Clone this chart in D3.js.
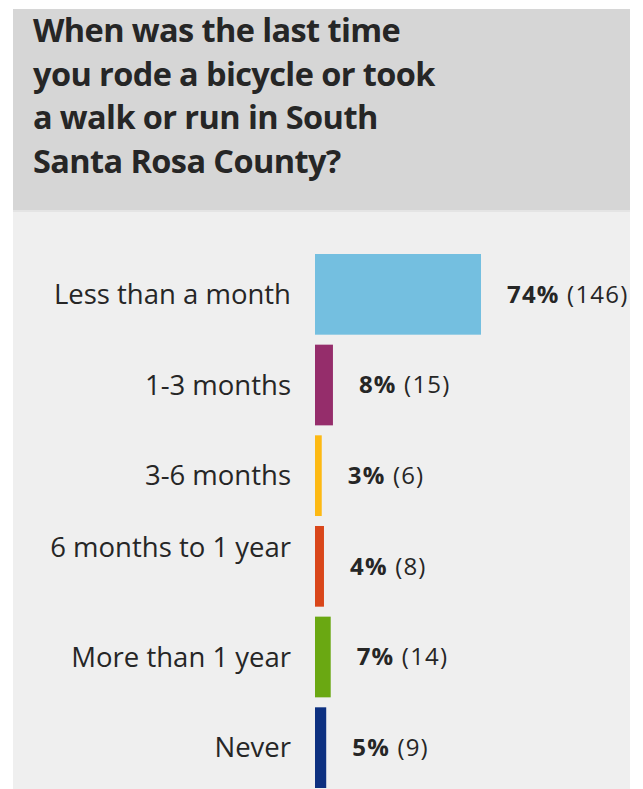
<!DOCTYPE html>
<html>
<head>
<meta charset="utf-8">
<script src="https://cdn.jsdelivr.net/npm/d3@7"></script>
<style>
  html, body { margin: 0; padding: 0; background: #ffffff; }
  svg { display: block; }
  text { font-family: "Open Sans", "Noto Sans", sans-serif; }
</style>
</head>
<body>
<svg id="chart" width="643" height="789"></svg>
<script>
const titleLines = [
  "When was the last time",
  "you rode a bicycle or took",
  "a walk or run in South",
  "Santa Rosa County?"
];
const categories = ["Less than a month", "1-3 months", "3-6 months", "6 months to 1 year", "More than 1 year", "Never"];
const percents = [74, 8, 3, 4, 7, 5];
const counts = [146, 15, 6, 8, 14, 9];
const colors = ["#74bfe0", "#952d6b", "#fdb913", "#d9461a", "#6aa812", "#0d3080"];

const data = categories.map((c, i) => ({ cat: c, pct: percents[i], n: counts[i], color: colors[i] }));

const W = 643, H = 789;
const svg = d3.select("#chart");

// panels
svg.append("rect").attr("x", 13).attr("y", 210).attr("width", 617).attr("height", H - 210).attr("fill", "#efefef");
svg.append("rect").attr("x", 13).attr("y", 9).attr("width", 617).attr("height", 201).attr("fill", "#d6d6d6");
svg.append("rect").attr("x", 13).attr("y", 210).attr("width", 617).attr("height", 2).attr("fill", "#e4e4e4");

// title
const title = svg.append("text")
  .attr("x", 33).attr("y", 42)
  .attr("font-size", 32.5).attr("font-weight", 700).attr("fill", "#262626")
  .attr("letter-spacing", -0.6);
title.selectAll("tspan").data(titleLines).join("tspan")
  .attr("x", 33).attr("dy", (d, i) => i === 0 ? 0 : 43.5)
  .text(d => d);

// scales
const x = d3.scaleLinear().domain([0, 74]).range([315, 481]);
const y = d3.scaleBand().domain(categories).range([254, 788]).paddingInner(0.11).paddingOuter(0);

const g = svg.append("g");
g.selectAll("rect.bar").data(data).join("rect")
  .attr("class", "bar")
  .attr("x", x(0))
  .attr("y", d => y(d.cat))
  .attr("width", d => x(d.pct) - x(0))
  .attr("height", y.bandwidth())
  .attr("fill", d => d.color);

// category labels
g.selectAll("text.cat").data(data).join("text")
  .attr("class", "cat")
  .attr("x", 291)
  .attr("y", d => y(d.cat) + y.bandwidth() / 2 + (d.cat === "6 months to 1 year" ? -19 : 0))
  .attr("dy", "0.35em")
  .attr("text-anchor", "end")
  .attr("font-size", 27.5).attr("fill", "#262626")
  .text(d => d.cat);

// value labels
const vl = g.selectAll("text.val").data(data).join("text")
  .attr("class", "val")
  .attr("x", d => x(d.pct) + 26)
  .attr("y", d => y(d.cat) + y.bandwidth() / 2)
  .attr("dy", "0.35em")
  .attr("font-size", 24).attr("fill", "#262626")
  .attr("letter-spacing", 1.2);
vl.append("tspan").attr("font-weight", 700).text(d => d.pct + "%");
vl.append("tspan").text(d => " (" + d.n + ")");

// right white margin to clip overflow
svg.append("rect").attr("x", 630).attr("y", 0).attr("width", W - 630).attr("height", H).attr("fill", "#ffffff");
</script>
</body>
</html>
